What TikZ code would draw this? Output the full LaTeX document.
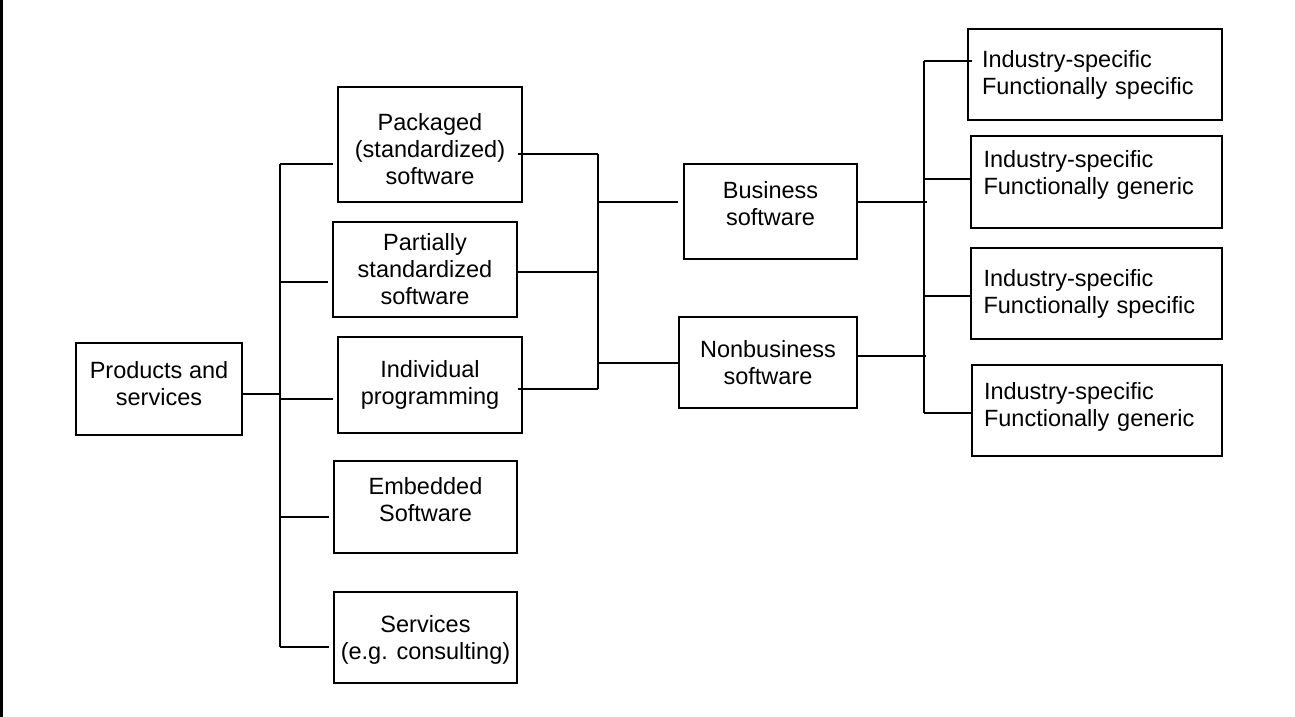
\documentclass[tikz,border=0pt]{standalone}
\usepackage{fontspec}
\setmainfont{Liberation Sans}
% text raised inside its box, box size kept
\newcommand{\liftc}[2]{\raisebox{#1}[\height][\depth]{\begin{tabular}{@{}c@{}}#2\end{tabular}}}
\newcommand{\liftl}[2]{\raisebox{#1}[\height][\depth]{\begin{tabular}{@{}l@{}}#2\end{tabular}}}
\begin{document}
\begin{tikzpicture}[x=1pt, y=-1pt, line width=1.8pt, font=\fontsize{23.5}{27}\selectfont]
\tikzstyle{box}=[draw, rectangle, align=center, inner sep=0pt]
\tikzstyle{leaf}=[draw, rectangle, align=left, text width=226pt, inner xsep=12pt, inner ysep=0pt, minimum height=91pt]
\useasboundingbox (0,0) rectangle (1295,717);
\draw[line width=2.5pt] (1.25,0) -- (1.25,717);
    % first level
    \node [box, minimum width=166pt, minimum height=92pt] (prod) at (159,389) {\liftc{2pt}{Products and\\services}};
    \node [box, minimum width=184pt, minimum height=115pt] (pack) at (430,144.5) {\liftc{-8pt}{Packaged\\(standardized)\\software}};
    \node [box, minimum width=184pt, minimum height=95pt] (part) at (425,269.5) {Partially\\standardized\\software};
    \node [box, minimum width=184pt, minimum height=96pt] (indiv) at (430,385) {Individual\\programming};
    \node [box, minimum width=183pt, minimum height=92pt] (embed) at (425.5,507) {\liftc{4pt}{Embedded\\Software}};
    \node [box, minimum width=183pt, minimum height=91pt] (serv) at (425.5,637.5) {\liftc{-3pt}{Services\\(e.g. consulting)}};
    % second level
    \node [box, minimum width=173pt, minimum height=95pt] (bus) at (770.5,211.5) {\liftc{5pt}{Business\\software}};
    \node [box, minimum width=178pt, minimum height=91pt] (nonbus) at (768,362.5) {Nonbusiness\\software};
    % third level
    \node [leaf, minimum width=254pt] (spec1) at (1095,74.5) {Industry-specific\\Functionally specific};
    \node [leaf, minimum width=251pt, minimum height=92pt] (gen1) at (1096.5,182) {\liftl{6pt}{Industry-specific\\Functionally generic}};
    \node [leaf, minimum width=251pt] (spec2) at (1096.5,293.5) {Industry-specific\\Functionally specific};
    \node [leaf, minimum width=250pt] (gen2) at (1097,410.5) {\liftl{3pt}{Industry-specific\\Functionally generic}};

    % left bracket
    \coordinate (l0) at (281,394);
    \coordinate (l1) at (280,164);
    \coordinate (l2) at (280,282);
    \coordinate (l3) at (280,399);
    \coordinate (l4) at (280,517);
    \coordinate (l5) at (280,647);
    \draw (l0 -| prod.east) -- (l0);
    \draw (l1) -- (l5);
    \foreach \p/\n in {l1/pack, l2/part, l3/indiv, l4/embed, l5/serv}
        \draw [shorten >=4pt] (\p) -- (\p -| \n.west);

    % middle bracket
    \coordinate (m1) at (598,154);
    \coordinate (m2) at (598,272);
    \coordinate (m3) at (598,389);
    \coordinate (mb) at (598,202);
    \coordinate (mn) at (598,363);
    \draw (m1) -- (m3);
    \draw [shorten <=-5pt] (m1 -| pack.east) -- (m1);
    \draw (m2 -| part.east) -- (m2);
    \draw [shorten <=-5pt] (m3 -| indiv.east) -- (m3);
    \draw [shorten >=5pt] (mb) -- (mb -| bus.west);
    \draw (mn) -- (mn -| nonbus.west);

    % right bracket
    \coordinate (rb) at (927,202);
    \coordinate (rn) at (926,356);
    \coordinate (r1) at (924,61);
    \coordinate (r2) at (924,179);
    \coordinate (r3) at (924,296);
    \coordinate (r4) at (924,413);
    \draw (bus.east |- rb) -- (rb);
    \draw (nonbus.east |- rn) -- (rn);
    \draw (r1) -- (r4);
    \draw [shorten >=-5pt] (r1) -- (r1 -| spec1.west);
    \foreach \p/\n in {r2/gen1, r3/spec2, r4/gen2}
        \draw (\p) -- (\p -| \n.west);
\end{tikzpicture}
\end{document}
